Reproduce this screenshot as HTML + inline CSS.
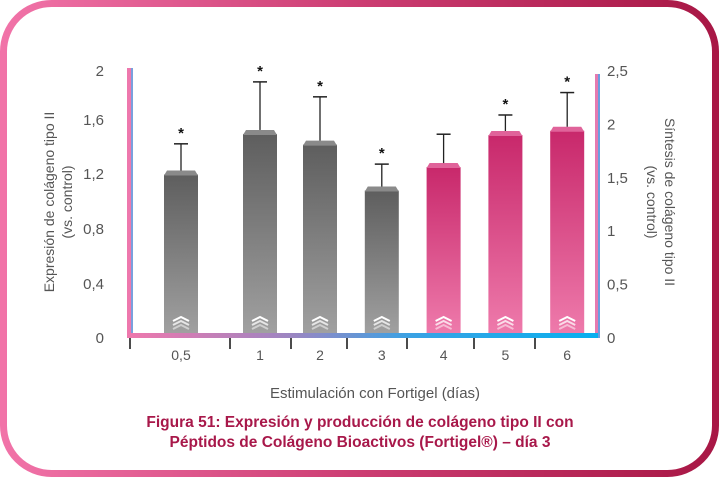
<!DOCTYPE html>
<html><head><meta charset="utf-8"><style>
body{margin:0;background:#fff;width:719px;height:477px;overflow:hidden;font-family:"Liberation Sans",sans-serif}
</style></head><body>
<svg width="719" height="477" viewBox="0 0 719 477">
<defs>
<linearGradient id="frame" x1="0" x2="1"><stop offset="0" stop-color="#f173a8"/><stop offset="0.5" stop-color="#cc3d72"/><stop offset="1" stop-color="#a81745"/></linearGradient>
<linearGradient id="grey" x1="0" y1="0" x2="0" y2="1"><stop offset="0" stop-color="#5e5e5e"/><stop offset="1" stop-color="#a0a0a0"/></linearGradient>
<linearGradient id="pink" x1="0" y1="0" x2="0" y2="1"><stop offset="0" stop-color="#c8286b"/><stop offset="1" stop-color="#ee7aab"/></linearGradient>
<linearGradient id="axis" x1="0" x2="1"><stop offset="0" stop-color="#ee78ad"/><stop offset="0.35" stop-color="#9a86c2"/><stop offset="0.6" stop-color="#3aa2e4"/><stop offset="1" stop-color="#08b0ee"/></linearGradient>
</defs>
<rect x="3.5" y="3.5" width="712" height="470" rx="48" fill="#fff" stroke="url(#frame)" stroke-width="7"/>
<g id="plot"></g>
<text x="375" y="398" text-anchor="middle" font-size="15" fill="#555">Estimulación con Fortigel  (días)</text>
<text x="360" y="427" text-anchor="middle" font-size="15.5" font-weight="bold" fill="#a8184a">Figura 51: Expresión y producción de colágeno tipo II con</text>
<text x="360" y="447" text-anchor="middle" font-size="15.5" font-weight="bold" fill="#a8184a">Péptidos de Colágeno Bioactivos (Fortigel®) – día 3</text>
<text transform="translate(54,202) rotate(-90)" text-anchor="middle" font-size="14" fill="#555">Expresión de colágeno tipo II</text>
<text transform="translate(72,202) rotate(-90)" text-anchor="middle" font-size="14" fill="#555">(vs. control)</text>
<text transform="translate(665,202) rotate(90)" text-anchor="middle" font-size="14" fill="#555">Síntesis de colágeno tipo II</text>
<text transform="translate(647,202) rotate(90)" text-anchor="middle" font-size="14" fill="#555">(vs. control)</text>
</svg>
<script>
const categories=["0,5","1","2","3","4","5","6"];
const values=[1.54,1.92,1.82,1.39,1.61,1.91,1.95];
const errTops=[1.79,2.37,2.23,1.60,1.88,2.06,2.27];
const significant=[true,true,true,true,false,true,true];
const seriesType=["grey","grey","grey","grey","pink","pink","pink"];
const leftTicks=["2","1,6","1,2","0,8","0,4","0"];
const leftTickY=[71,120,174,229,284,338];
const rightTicks=["2,5","2","1,5","1","0,5","0"];
const rightTickVals=[2.5,2,1.5,1,0.5,0];
const NS="http://www.w3.org/2000/svg";
const g=document.getElementById('plot');
const y=v=>335-v*106.8;
const x=i=>i===0?181:i===1?260:320+(i-2)*61.8;
function mk(t,a,p){const e=document.createElementNS(NS,t);for(const k in a)e.setAttribute(k,a[k]);(p||g).appendChild(e);return e;}
let e=mk('rect',{x:127,y:68,width:6,height:270,fill:'#ee78ad'});

mk('rect',{x:131,y:68,width:2,height:270,fill:'#7aa0dd'});
e=mk('rect',{x:595,y:74,width:5,height:264,fill:'#e57ab0'});

mk('rect',{x:598,y:74,width:2,height:264,fill:'#6a9ee0'});
e=mk('rect',{x:130,y:333,width:468,height:5,fill:'url(#axis)'});

[130,230,291,347,407,474,535].forEach(tx=>{mk('line',{x1:tx,y1:338,x2:tx,y2:349,stroke:'#111','stroke-width':1.5});});
leftTicks.forEach((t,i)=>{const el=mk('text',{x:104,y:leftTickY[i]+5,'text-anchor':'end','font-size':15,fill:'#555'});el.textContent=t;
});
rightTicks.forEach((t,i)=>{const yy=rightTickVals[i]===0?338:y(rightTickVals[i])+3;const el=mk('text',{x:607,y:yy+5,'font-size':15,fill:'#555'});el.textContent=t;
});
categories.forEach((c,i)=>{
 const cx=x(i),top=y(values[i]),w=34,fill=seriesType[i]==='grey'?'url(#grey)':'url(#pink)';
 const bar=mk('rect',{x:cx-w/2,y:top+4,width:w,height:333-top-4,fill:fill});
 
 mk('polygon',{points:`${cx-w/2},${top+5} ${cx-w/2+3},${top} ${cx+w/2-3},${top} ${cx+w/2},${top+5}`,fill:seriesType[i]==='grey'?'#8a8a8a':'#e0639a'});
 const ey=y(errTops[i]);
 mk('line',{x1:cx,y1:top,x2:cx,y2:ey,stroke:'#222','stroke-width':1.3});
 const eb=mk('line',{x1:cx-7,y1:ey,x2:cx+7,y2:ey,stroke:'#222','stroke-width':1.5});
 
 if(significant[i]){const s=mk('text',{x:cx,y:ey-6,'text-anchor':'middle','font-size':15,'font-weight':'bold',fill:'#111'});s.textContent='*';
 }
 for(let k=0;k<3;k++){mk('polyline',{points:`${cx-8},${321+k*4} ${cx},${317+k*4} ${cx+8},${321+k*4}`,fill:'none',stroke:'#fff','stroke-width':2,opacity:1-k*0.25});}
 const l=mk('text',{x:cx,y:360,'text-anchor':'middle','font-size':14,fill:'#555'});l.textContent=c;
 
});
</script>
</body></html>
